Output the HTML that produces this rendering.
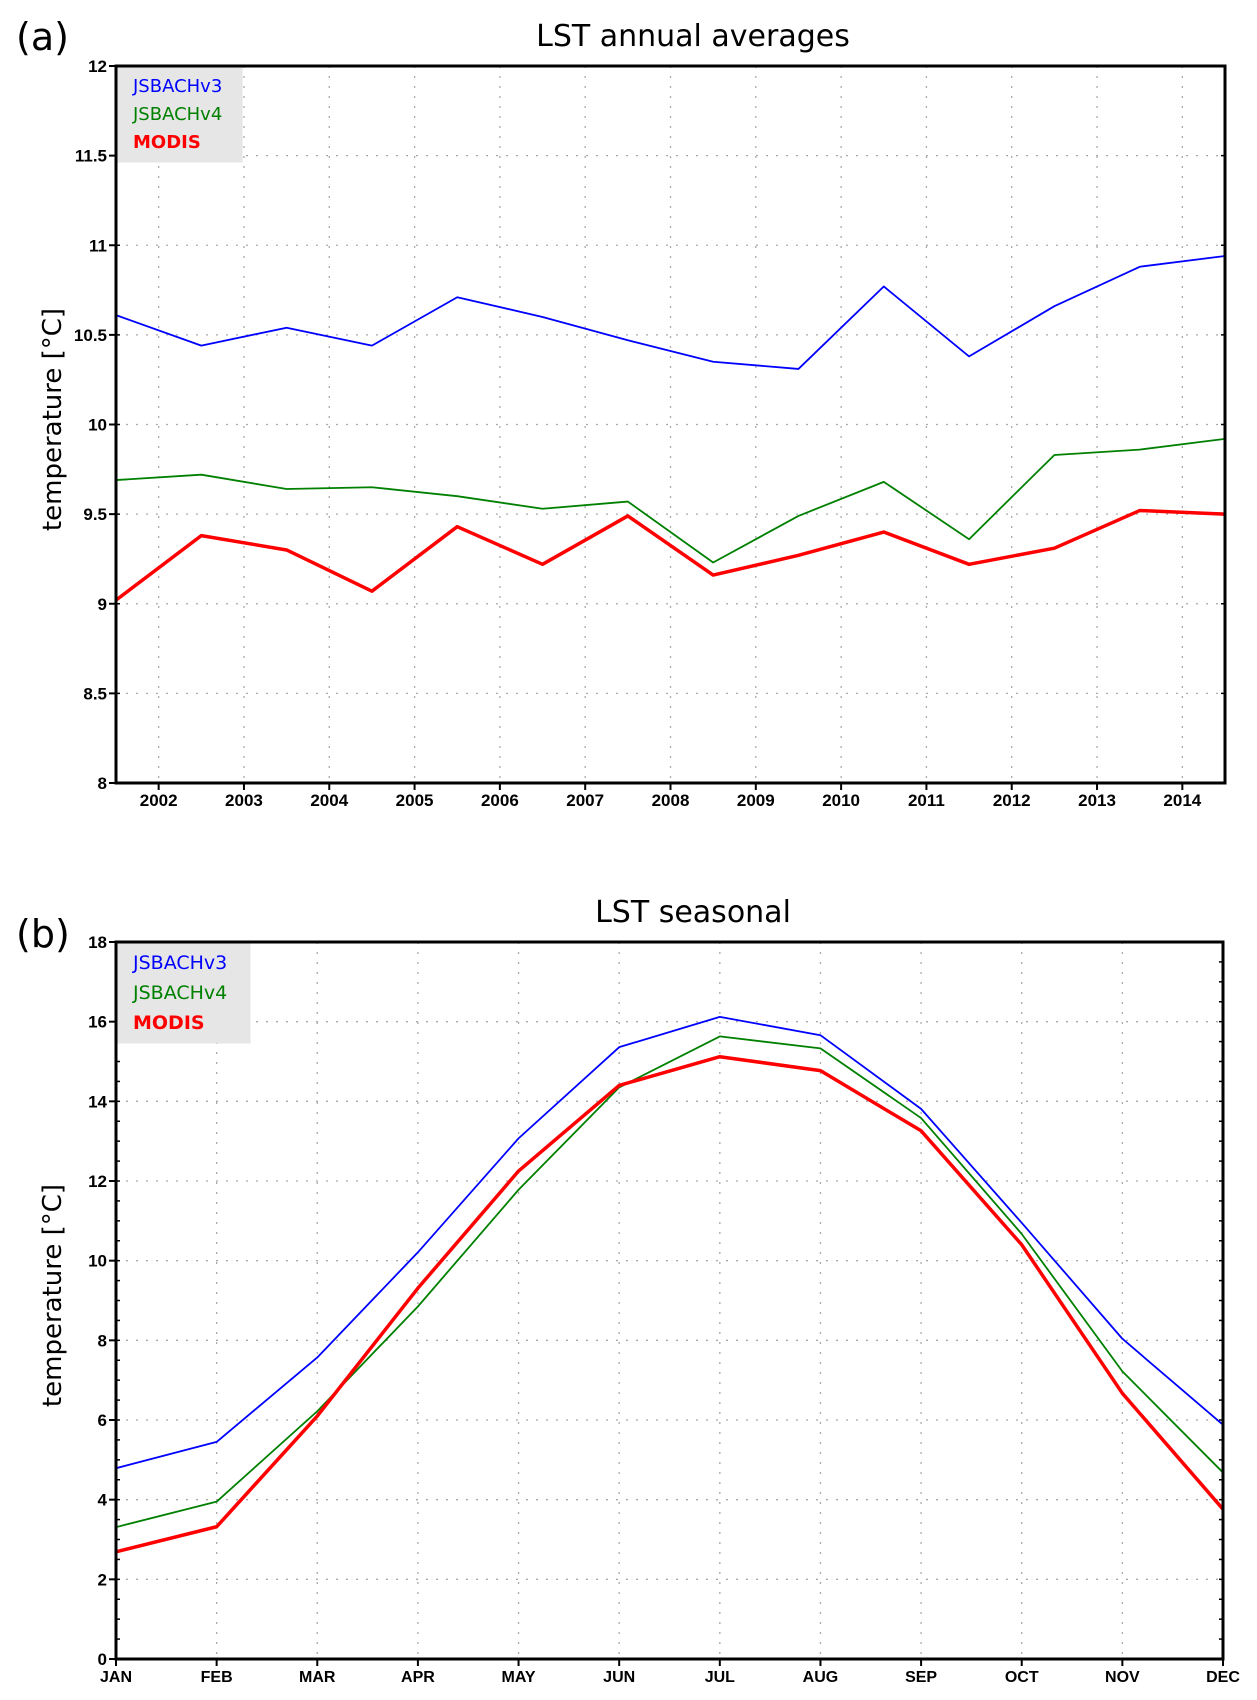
<!DOCTYPE html>
<html><head><meta charset="utf-8"><style>
html,body{margin:0;padding:0;background:#fff;}
svg{display:block;font-family:"DejaVu Sans","Liberation Sans",sans-serif;}
.tk{font-family:"Liberation Sans",sans-serif;font-weight:bold;font-size:17px;fill:#000;}
</style></head><body>
<svg id="s" width="1257" height="1700" viewBox="0 0 1257 1700" xmlns="http://www.w3.org/2000/svg"></svg>
<script>
const years = [2001.5,2002.5,2003.5,2004.5,2005.5,2006.5,2007.5,2008.5,2009.5,2010.5,2011.5,2012.5,2013.5,2014.5];
const annualV3 = [10.61,10.44,10.54,10.44,10.71,10.60,10.47,10.35,10.31,10.77,10.38,10.66,10.88,10.94];
const annualV4 = [9.69,9.72,9.64,9.65,9.60,9.53,9.57,9.23,9.49,9.68,9.36,9.83,9.86,9.92];
const annualModis = [9.02,9.38,9.30,9.07,9.43,9.22,9.49,9.16,9.27,9.40,9.22,9.31,9.52,9.50];
const yearTicks = [2002,2003,2004,2005,2006,2007,2008,2009,2010,2011,2012,2013,2014];
const annualYTicks = [8,8.5,9,9.5,10,10.5,11,11.5,12];
const months = ["JAN","FEB","MAR","APR","MAY","JUN","JUL","AUG","SEP","OCT","NOV","DEC"];
const seasV3 = [4.79,5.45,7.57,10.21,13.07,15.36,16.12,15.66,13.81,10.95,8.04,5.88];
const seasV4 = [3.31,3.95,6.22,8.85,11.78,14.35,15.63,15.33,13.58,10.67,7.22,4.68];
const seasModis = [2.69,3.32,6.10,9.31,12.25,14.40,15.12,14.77,13.26,10.40,6.67,3.76];
const seasYTicks = [0,2,4,6,8,10,12,14,16,18];

const NS="http://www.w3.org/2000/svg";
const svg=document.getElementById('s');
function mk(tag,attrs,parent){const e=document.createElementNS(NS,tag);for(const k in attrs)e.setAttribute(k,attrs[k]);(parent||svg).appendChild(e);return e;}

function panel(cfg){
  const g=mk('g',{});
  
  
  const L=116,R=cfg.R,T=cfg.T,B=cfg.B;
  const xs=v=>L+(v-cfg.x0)/(cfg.x1-cfg.x0)*(R-L);
  const ys=v=>B-(v-cfg.y0)/(cfg.y1-cfg.y0)*(B-T);
  cfg.xt.forEach((t,i)=>{
    const x=xs(cfg.xtv(t,i));
    if(x>L+1&&x<R-1){const l=mk('line',{x1:x,x2:x,y1:T,y2:B,stroke:'#aaa','stroke-width':1.3,'stroke-dasharray':'2,8'},g);
    }
  });
  cfg.yt.forEach(t=>{
    const y=ys(t);
    if(y>T+1&&y<B-1){const l=mk('line',{x1:L,x2:R,y1:y,y2:y,stroke:'#aaa','stroke-width':1.3,'stroke-dasharray':'2,8'},g);
    }
  });
  for(let v=cfg.y0;v<=cfg.y1+1e-9;v+=cfg.minor){
    const y=ys(v);
    mk('line',{x1:L,x2:L+4,y1:y,y2:y,stroke:'#000','stroke-width':1.5},g);
    mk('line',{x1:R,x2:R-4,y1:y,y2:y,stroke:'#000','stroke-width':1.5},g);
  }
  const clip=mk('clipPath',{id:'c'+cfg.name},g);mk('rect',{x:L,y:T,width:R-L,height:B-T},clip);
  cfg.series.forEach(s=>{
    const pts=s.v.map((v,i)=>xs(cfg.xv[i])+','+ys(v)).join(' ');
    const p=mk('polyline',{points:pts,fill:'none',stroke:s.c,'stroke-width':s.w,'stroke-linejoin':'round','clip-path':'url(#c'+cfg.name+')'},g);
    
    
  });
  const f=mk('rect',{x:L,y:T,width:R-L,height:B-T,fill:'none',stroke:'#000','stroke-width':3},g);
  
  cfg.yt.forEach(t=>{
    const y=ys(t);
    mk('line',{x1:L-7,x2:L,y1:y,y2:y,stroke:'#000','stroke-width':2},g);
    const tx=mk('text',{x:L-9,y:y+6,'text-anchor':'end',class:'tk'},g);tx.textContent=String(t);
    
  });
  cfg.xt.forEach((t,i)=>{
    const x=xs(cfg.xtv(t,i));
    mk('line',{x1:x,x2:x,y1:B,y2:B+7,stroke:'#000','stroke-width':2},g);
    const tx=mk('text',{x:x,y:B+23,'text-anchor':'middle',class:'tk',style:cfg.xstyle||''},g);tx.textContent=String(t);
    
  });
  const ti=mk('text',{x:693,y:T-20,'text-anchor':'middle','font-size':30,fill:'#000'},g);ti.textContent=cfg.title;
  
  const pl=mk('text',{x:16,y:cfg.lblY,'font-size':38,fill:'#000'},g);pl.textContent=cfg.label;
  
  const cy=(T+B)/2-5;
  const yl=mk('text',{x:61,y:cy,'text-anchor':'middle','font-size':26,fill:'#000',transform:'rotate(-90 61 '+cy+')'},g);yl.textContent='temperature [°C]';
  
  const lg=mk('g',{},g);
  
  mk('rect',{x:L+1.5,y:T+1.5,width:cfg.lw,height:cfg.lh,fill:'#e6e6e6'},lg);
  cfg.series.forEach((s,i)=>{
    const t=mk('text',{x:133,y:T+cfg.lb0+i*cfg.lstep,'font-size':cfg.lfs,fill:s.c,'font-weight':s.n==='modis-line'?'bold':'normal'},lg);
    t.textContent=s.label;
    
  });
}

panel({name:'annual-chart',R:1225,T:66,B:783,x0:2001.5,x1:2014.5,y0:8,y1:12,minor:0.5,
  xt:yearTicks,xtv:t=>t,xv:years,yt:annualYTicks,title:'LST annual averages',label:'(a)',lblY:50,
  lw:125,lh:95,lb0:26,lstep:28,lfs:18,
  series:[{n:'jsbachv3-line',label:'JSBACHv3',v:annualV3,c:'#0000ff',w:1.8},
          {n:'jsbachv4-line',label:'JSBACHv4',v:annualV4,c:'#008000',w:1.8},
          {n:'modis-line',label:'MODIS',v:annualModis,c:'#ff0000',w:3.5}]});
const mIdx=months.map((m,i)=>i);
panel({name:'seasonal-chart',R:1223,T:942,B:1659,x0:0,x1:11,y0:0,y1:18,minor:0.5,
  xt:months,xtv:(t,i)=>i,xv:mIdx,yt:seasYTicks,title:'LST seasonal',label:'(b)',lblY:947,
  lw:133,lh:100,lb0:27,lstep:30,lfs:19,xstyle:'font-size:16px',
  series:[{n:'jsbachv3-line',label:'JSBACHv3',v:seasV3,c:'#0000ff',w:1.8},
          {n:'jsbachv4-line',label:'JSBACHv4',v:seasV4,c:'#008000',w:1.8},
          {n:'modis-line',label:'MODIS',v:seasModis,c:'#ff0000',w:3.5}]});
</script>
</body></html>
